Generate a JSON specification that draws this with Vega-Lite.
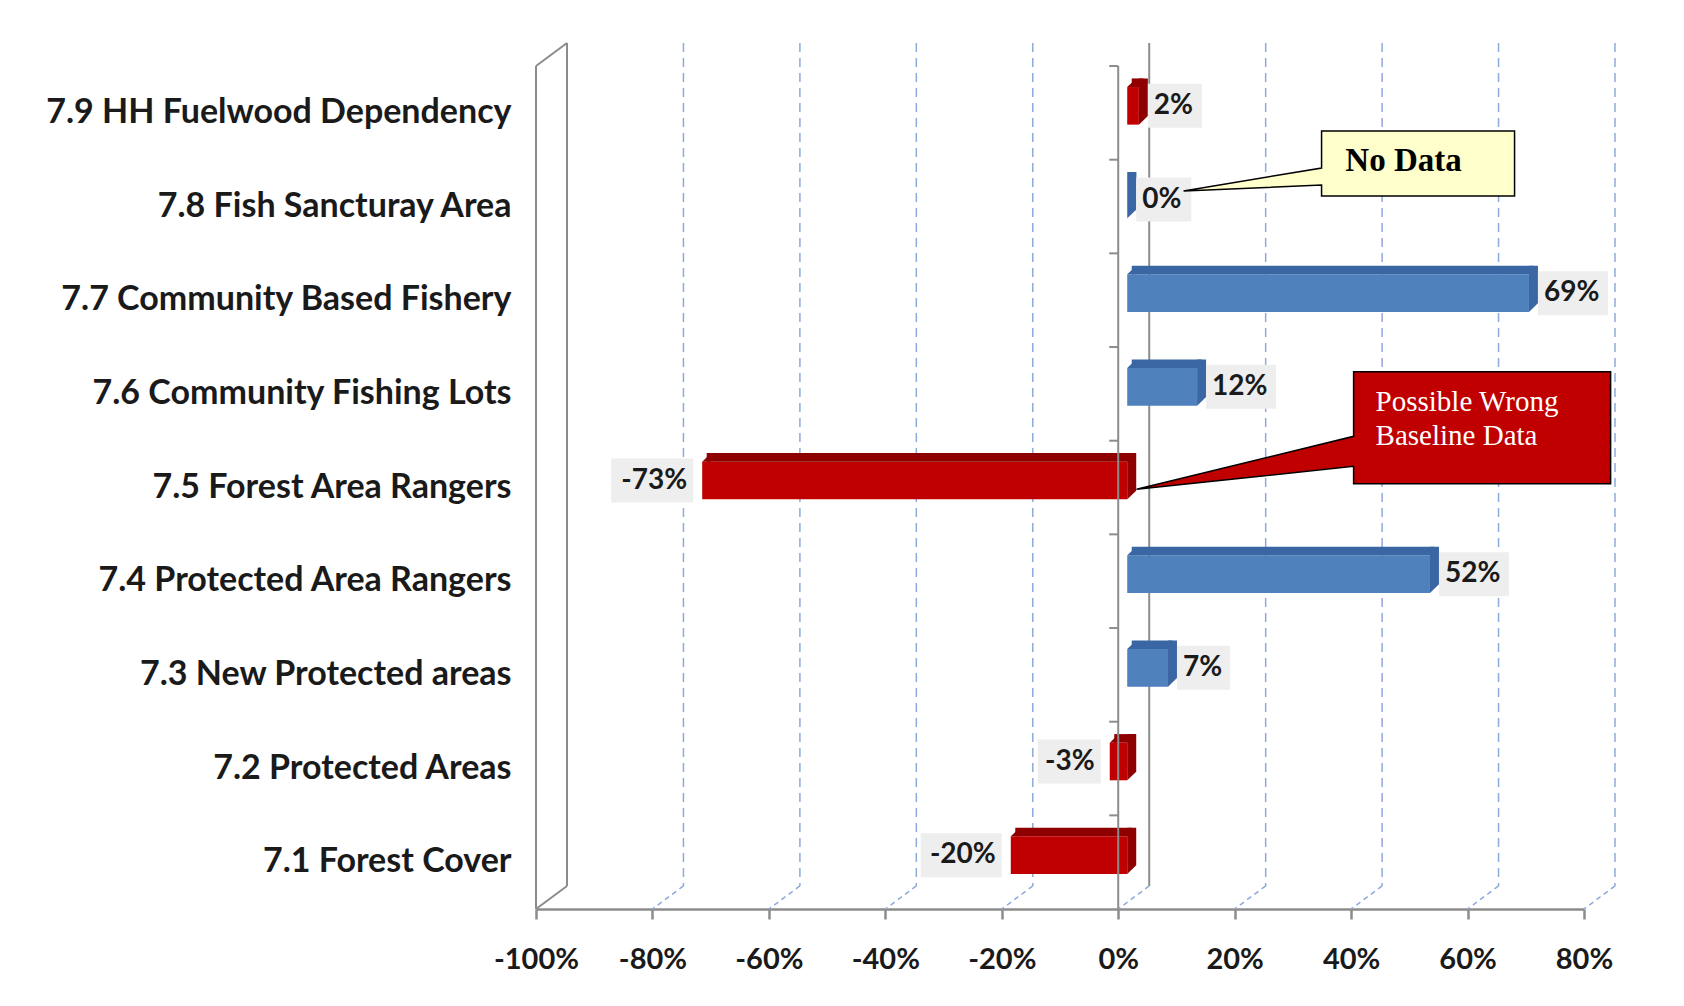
{
  "$schema": "https://vega.github.io/schema/vega-lite/v6.json",
  "width": 1048,
  "height": 843,
  "autosize": {"type": "none"},
  "padding": {"left": 536, "top": 66, "right": 100, "bottom": 97},
  "background": "white",
  "config": {"view": {"stroke": null}, "font": "Lato", "axis": {"grid": false}},
  "datasets": {
    "bars": [
      {"indicator": "7.9 HH Fuelwood Dependency", "change": 0.02, "label": "2%", "trend": "unfavourable"},
      {"indicator": "7.8 Fish Sancturay Area", "change": 0.0, "label": "0%", "trend": "favourable"},
      {"indicator": "7.7 Community Based Fishery", "change": 0.69, "label": "69%", "trend": "favourable"},
      {"indicator": "7.6 Community Fishing Lots", "change": 0.12, "label": "12%", "trend": "favourable"},
      {"indicator": "7.5 Forest Area Rangers", "change": -0.73, "label": "-73%", "trend": "unfavourable"},
      {"indicator": "7.4 Protected Area Rangers", "change": 0.52, "label": "52%", "trend": "favourable"},
      {"indicator": "7.3 New Protected areas", "change": 0.07, "label": "7%", "trend": "favourable"},
      {"indicator": "7.2 Protected Areas", "change": -0.03, "label": "-3%", "trend": "unfavourable"},
      {"indicator": "7.1 Forest Cover", "change": -0.2, "label": "-20%", "trend": "unfavourable"}
    ]
  },
  "layer": [
    {
      "data": {"values": [{"tick": -0.8}, {"tick": -0.6}, {"tick": -0.4}, {"tick": -0.2}, {"tick": 0.2}, {"tick": 0.4}, {"tick": 0.6}, {"tick": 0.8}]},
      "mark": {"type": "rule", "stroke": "#8eaadb", "strokeWidth": 1.5, "strokeDash": [9, 6], "xOffset": 31, "yOffset": -69.8, "y2Offset": 23.8},
      "encoding": {
        "x": {"field": "tick", "type": "quantitative", "title": null, "scale": {"domain": [-1, 0.8], "nice": false, "zero": false}},
        "y": {"datum": "7.9 HH Fuelwood Dependency", "type": "nominal", "title": null},
        "y2": {"datum": "7.1 Forest Cover"}
      }
    },
    {
      "data": {"values": [{"tick": -0.8}, {"tick": -0.6}, {"tick": -0.4}, {"tick": -0.2}, {"tick": 0}, {"tick": 0.2}, {"tick": 0.4}, {"tick": 0.6}, {"tick": 0.8}]},
      "mark": {"type": "rule", "stroke": "#8eaadb", "strokeWidth": 1.5, "strokeDash": [5, 4], "xOffset": 31, "x2Offset": 0, "yOffset": 23.8, "y2Offset": 46.8},
      "encoding": {
        "x": {"field": "tick", "type": "quantitative", "title": null},
        "x2": {"field": "tick"},
        "y": {"datum": "7.1 Forest Cover", "type": "nominal", "title": null},
        "y2": {"datum": "7.1 Forest Cover"}
      }
    },
    {
      "data": {"values": [{"edge": -1}, {"edge": 0}]},
      "mark": {"type": "rule", "stroke": "#8c8c8c", "strokeWidth": 2, "xOffset": 31, "yOffset": -69.8, "y2Offset": 23.8},
      "encoding": {
        "x": {"field": "edge", "type": "quantitative", "title": null},
        "y": {"datum": "7.9 HH Fuelwood Dependency", "type": "nominal", "title": null},
        "y2": {"datum": "7.1 Forest Cover"}
      }
    },
    {
      "data": {"values": [{"edge": -1}]},
      "mark": {"type": "rule", "stroke": "#8c8c8c", "strokeWidth": 2, "yOffset": -46.8, "y2Offset": 46.8},
      "encoding": {
        "x": {"field": "edge", "type": "quantitative", "title": null},
        "y": {"datum": "7.9 HH Fuelwood Dependency", "type": "nominal", "title": null},
        "y2": {"datum": "7.1 Forest Cover"}
      }
    },
    {
      "data": {"values": [{"edge": -1}]},
      "mark": {"type": "rule", "stroke": "#8c8c8c", "strokeWidth": 2, "x2Offset": 31, "yOffset": -46.8, "y2Offset": -69.8},
      "encoding": {
        "x": {"field": "edge", "type": "quantitative", "title": null},
        "x2": {"field": "edge"},
        "y": {"datum": "7.9 HH Fuelwood Dependency", "type": "nominal", "title": null},
        "y2": {"datum": "7.9 HH Fuelwood Dependency"}
      }
    },
    {
      "data": {"values": [{"edge": -1}]},
      "mark": {"type": "rule", "stroke": "#8c8c8c", "strokeWidth": 2, "xOffset": 31, "yOffset": 23.8, "y2Offset": 46.8},
      "encoding": {
        "x": {"field": "edge", "type": "quantitative", "title": null},
        "x2": {"field": "edge"},
        "y": {"datum": "7.1 Forest Cover", "type": "nominal", "title": null},
        "y2": {"datum": "7.1 Forest Cover"}
      }
    },
    {
      "data": {"name": "bars"},
      "mark": {"type": "bar", "height": 37.6, "yOffset": -7, "xOffset": 9, "x2Offset": 9},
      "encoding": {
        "x": {"field": "change", "type": "quantitative", "title": null,
          "axis": {"values": [-1, -0.8, -0.6, -0.4, -0.2, 0, 0.2, 0.4, 0.6, 0.8], "format": ".0%", "labelExpr": "replace(datum.label, '\u2212', '-')", "labelOverlap": false, "labelFlush": false, "grid": false, "domainColor": "#8c8c8c", "domainWidth": 2.5, "tickColor": "#8c8c8c", "tickWidth": 2.5, "tickSize": 10, "labelFontSize": 29, "labelFontWeight": "bold", "labelFont": "Lato", "labelColor": "#1a1a1a", "labelPadding": 26}},
        "x2": {"datum": 0},
        "y": {"field": "indicator", "type": "nominal", "title": null,
          "scale": {"domain": ["7.9 HH Fuelwood Dependency", "7.8 Fish Sancturay Area", "7.7 Community Based Fishery", "7.6 Community Fishing Lots", "7.5 Forest Area Rangers", "7.4 Protected Area Rangers", "7.3 New Protected areas", "7.2 Protected Areas", "7.1 Forest Cover"], "paddingInner": 0, "paddingOuter": 0},
          "axis": {"domain": false, "ticks": false, "labelFontSize": 34, "labelFontWeight": "bold", "labelFont": "Lato", "labelColor": "#1a1a1a", "labelPadding": 25, "labelLimit": 700}},
        "color": {"field": "trend", "type": "nominal", "scale": {"domain": ["favourable", "unfavourable"], "range": ["#4f81bd", "#c00000"]}, "legend": null}
      }
    },
    {
      "data": {"name": "bars"},
      "mark": {"type": "bar", "height": 8.6, "yOffset": -30.1, "xOffset": 13.5, "x2Offset": 13.5},
      "encoding": {
        "x": {"field": "change", "type": "quantitative", "title": null},
        "x2": {"datum": 0},
        "y": {"field": "indicator", "type": "nominal", "title": null},
        "fill": {"field": "trend", "type": "nominal", "scale": {"domain": ["favourable", "unfavourable"], "range": ["#3a67a3", "#8e0000"]}, "legend": null}
      }
    },
    {
      "data": {"name": "bars"},
      "transform": [{"filter": "datum.change >= 0"}],
      "mark": {"type": "point", "shape": "M0,-18.8L9,-27.4L9,-18.8Z", "size": 4, "filled": true, "opacity": 1, "strokeWidth": 0, "xOffset": 9, "yOffset": -7},
      "encoding": {
        "x": {"datum": 0, "type": "quantitative", "title": null},
        "y": {"field": "indicator", "type": "nominal", "title": null},
        "fill": {"field": "trend", "type": "nominal", "legend": null}
      }
    },
    {
      "data": {"name": "bars"},
      "transform": [{"filter": "datum.change < 0"}],
      "mark": {"type": "point", "shape": "M0,-18.8L9,-27.4L9,-18.8Z", "size": 4, "filled": true, "opacity": 1, "strokeWidth": 0, "xOffset": 9, "yOffset": -7},
      "encoding": {
        "x": {"field": "change", "type": "quantitative", "title": null},
        "y": {"field": "indicator", "type": "nominal", "title": null},
        "fill": {"field": "trend", "type": "nominal", "legend": null}
      }
    },
    {
      "data": {"name": "bars"},
      "transform": [{"filter": "datum.change >= 0"}],
      "mark": {"type": "point", "shape": "M0,-27.4L9,-27.4L9,10.2L0,18.8Z", "size": 4, "filled": true, "opacity": 1, "strokeWidth": 0, "xOffset": 9, "yOffset": -7},
      "encoding": {
        "x": {"field": "change", "type": "quantitative", "title": null},
        "y": {"field": "indicator", "type": "nominal", "title": null},
        "fill": {"field": "trend", "type": "nominal", "legend": null}
      }
    },
    {
      "data": {"name": "bars"},
      "transform": [{"filter": "datum.change < 0"}],
      "mark": {"type": "point", "shape": "M0,-27.4L9,-27.4L9,10.2L0,18.8Z", "size": 4, "filled": true, "opacity": 1, "strokeWidth": 0, "xOffset": 9, "yOffset": -7},
      "encoding": {
        "x": {"datum": 0, "type": "quantitative", "title": null},
        "y": {"field": "indicator", "type": "nominal", "title": null},
        "fill": {"field": "trend", "type": "nominal", "legend": null}
      }
    },
    {
      "data": {"values": [{"edge": 0}]},
      "mark": {"type": "rule", "stroke": "#8c8c8c", "strokeWidth": 2, "yOffset": -46.8, "y2Offset": 46.8},
      "encoding": {
        "x": {"field": "edge", "type": "quantitative", "title": null},
        "y": {"datum": "7.9 HH Fuelwood Dependency", "type": "nominal", "title": null},
        "y2": {"datum": "7.1 Forest Cover"}
      }
    },
    {
      "data": {"name": "bars"},
      "mark": {"type": "rule", "stroke": "#8c8c8c", "strokeWidth": 2, "x2Offset": -9, "yOffset": -46.8},
      "encoding": {
        "x": {"datum": 0, "type": "quantitative", "title": null},
        "x2": {"datum": 0},
        "y": {"field": "indicator", "type": "nominal", "title": null}
      }
    },
    {
      "data": {"name": "bars"},
      "mark": {"type": "point", "size": 4, "filled": true, "opacity": 1, "strokeWidth": 0, "fill": "#eeeeee", "color": "#eeeeee", "xOffset": 9, "yOffset": -7},
      "encoding": {
        "x": {"field": "change", "type": "quantitative", "title": null},
        "y": {"field": "indicator", "type": "nominal", "title": null},
        "shape": {"field": "label", "type": "nominal", "legend": null,
          "scale": {"domain": ["2%", "0%", "69%", "12%", "-73%", "52%", "7%", "-3%", "-20%"],
            "range": ["M9,-22H63V22H9Z", "M9,-22H64V22H9Z", "M9,-22H79V22H9Z", "M9,-22H79V22H9Z", "M-91,-22H-9V22H-91Z", "M9,-22H79V22H9Z", "M9,-22H62V22H9Z", "M-72,-22H-9V22H-72Z", "M-90,-22H-9V22H-90Z"]}}
      }
    },
    {
      "data": {"name": "bars"},
      "transform": [{"filter": "datum.change >= 0"}],
      "mark": {"type": "text", "align": "left", "baseline": "middle", "font": "Lato", "fontWeight": "bold", "fontSize": 28, "color": "#1a1a1a", "xOffset": 24, "yOffset": -7},
      "encoding": {
        "x": {"field": "change", "type": "quantitative", "title": null},
        "y": {"field": "indicator", "type": "nominal", "title": null},
        "text": {"field": "label"}
      }
    },
    {
      "data": {"name": "bars"},
      "transform": [{"filter": "datum.change < 0"}],
      "mark": {"type": "text", "align": "right", "baseline": "middle", "font": "Lato", "fontWeight": "bold", "fontSize": 28, "color": "#1a1a1a", "xOffset": -6, "yOffset": -7},
      "encoding": {
        "x": {"field": "change", "type": "quantitative", "title": null},
        "y": {"field": "indicator", "type": "nominal", "title": null},
        "text": {"field": "label"}
      }
    },
    {
      "data": {"values": [{"indicator": "7.8 Fish Sancturay Area", "at": 0.515, "note": "No Data"}]},
      "mark": {"type": "point", "shape": "M-96.5,-32.5L96.5,-32.5L96.5,32.5L-96.5,32.5L-96.5,21.5L-234.5,27.5L-96.5,4.5Z", "size": 4, "filled": true, "opacity": 1, "fill": "#ffffcc", "stroke": "#000000", "strokeWidth": 1.5, "yOffset": -43},
      "encoding": {
        "x": {"field": "at", "type": "quantitative", "title": null},
        "y": {"field": "indicator", "type": "nominal", "title": null}
      }
    },
    {
      "data": {"values": [{"indicator": "7.8 Fish Sancturay Area", "at": 0.515, "note": "No Data"}]},
      "mark": {"type": "text", "align": "center", "baseline": "middle", "font": "Liberation Serif", "fontWeight": "bold", "fontSize": 33, "color": "#000000", "yOffset": -45.5, "xOffset": -14.5},
      "encoding": {
        "x": {"field": "at", "type": "quantitative", "title": null},
        "y": {"field": "indicator", "type": "nominal", "title": null},
        "text": {"field": "note"}
      }
    },
    {
      "data": {"values": [{"indicator": "7.5 Forest Area Rangers", "at": 0.625, "note": ["Possible Wrong", "Baseline Data"]}]},
      "mark": {"type": "point", "shape": "M-128.5,-56L128.5,-56L128.5,56L-128.5,56L-128.5,38.5L-345.5,61.5L-128.5,8.5Z", "size": 4, "filled": true, "opacity": 1, "fill": "#c00000", "stroke": "#000000", "strokeWidth": 1.5, "yOffset": -59.7},
      "encoding": {
        "x": {"field": "at", "type": "quantitative", "title": null},
        "y": {"field": "indicator", "type": "nominal", "title": null}
      }
    },
    {
      "data": {"values": [{"indicator": "7.5 Forest Area Rangers", "at": 0.625, "note": ["Possible Wrong", "Baseline Data"]}]},
      "mark": {"type": "text", "align": "left", "baseline": "middle", "font": "Liberation Serif", "fontSize": 29, "lineHeight": 34, "color": "#ffffff", "yOffset": -85.2, "xOffset": -106.5},
      "encoding": {
        "x": {"field": "at", "type": "quantitative", "title": null},
        "y": {"field": "indicator", "type": "nominal", "title": null},
        "text": {"field": "note"}
      }
    }
  ]
}
